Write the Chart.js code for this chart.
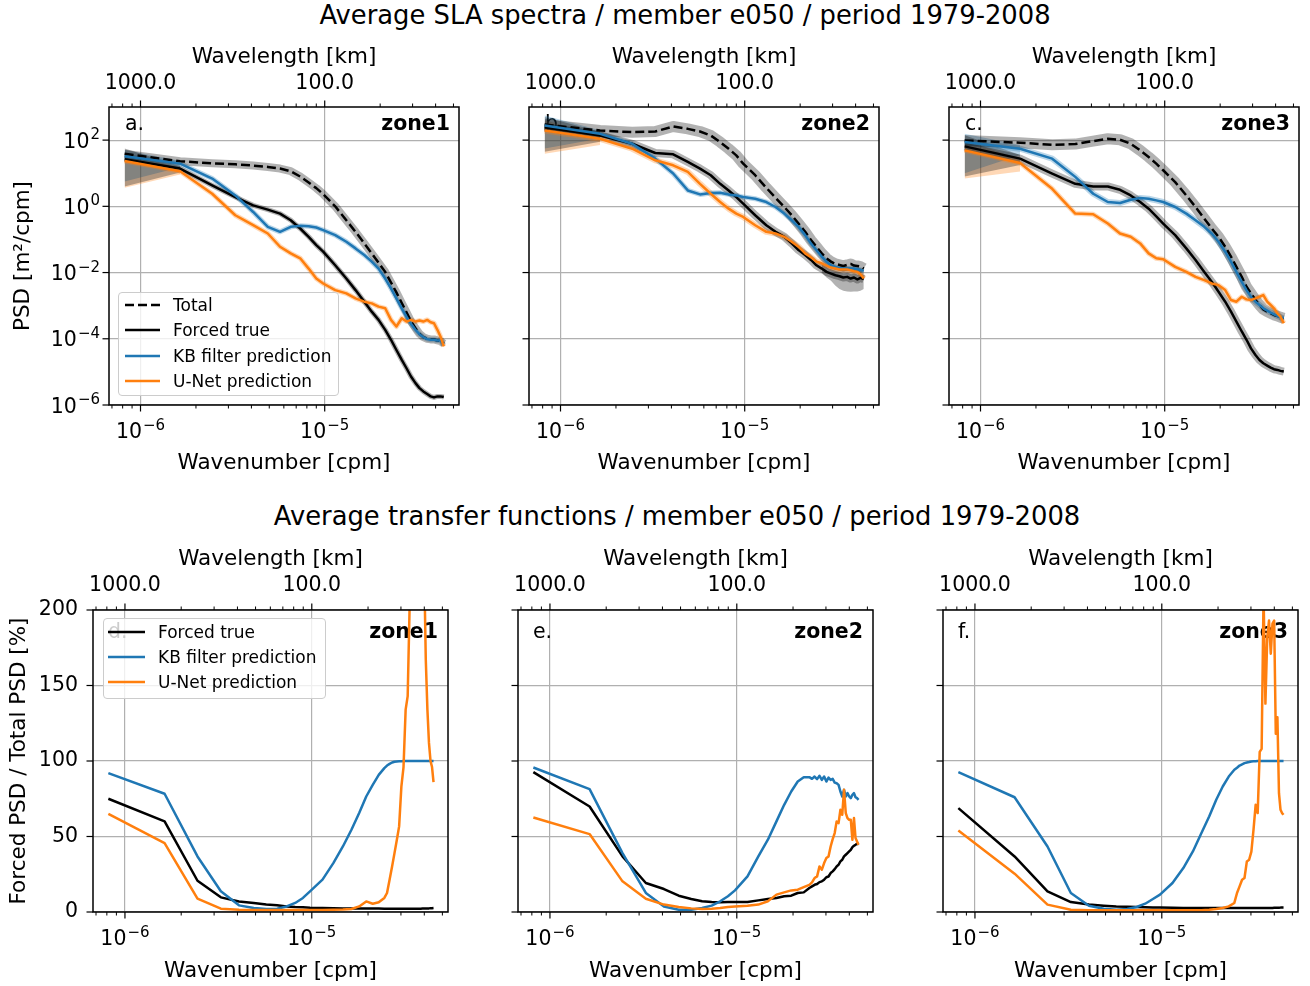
<!DOCTYPE html>
<html>
<head>
<meta charset="utf-8">
<script src="https://cdn.jsdelivr.net/npm/chart.js@4.4.1/dist/chart.umd.min.js"></script>
<style>
  body { margin: 0; width: 1310px; height: 986px; background: #fff; position: relative; overflow: hidden; font-family: "DejaVu Sans", sans-serif; }
  canvas { position: absolute; }
  .suptitle { position: absolute; font-size: 25.8px; line-height: 1; white-space: nowrap; transform: translate(-50%, -50%); color: #000; }
  .legend { position: absolute; box-sizing: border-box; background: rgba(255,255,255,0.8); border: 1px solid #cccccc; border-radius: 4px; font-size: 17px; }
  .lrow { position: absolute; display: flex; align-items: center; transform: translateY(-50%); white-space: nowrap; }
  .lrow svg { display: block; }
</style>
</head>
<body>
<div class="suptitle" style="left:685px; top:16px">Average SLA spectra / member e050 / period 1979-2008</div>
<div class="suptitle" style="left:677px; top:517px">Average transfer functions / member e050 / period 1979-2008</div>
<script>
const FONT = 'DejaVu Sans';

/* Wavenumber axes (cpm) */
const K_MIN = 6.745e-7;
const K_MAX = 5.358e-5;
const kMajor = [1e-6, 1e-5];
const kMajorExp = ['−6', '−5'];
const lambdaLabels = ['1000.0', '100.0'];
const kMinor = [7e-7, 8e-7, 9e-7, 2e-6, 3e-6, 4e-6, 5e-6, 6e-6, 7e-6, 8e-6, 9e-6, 2e-5, 3e-5, 4e-5, 5e-5];

const psdTicks = [1e-6, 1e-4, 1e-2, 1, 1e2];
const psdTickExp = ['−6', '−4', '−2', '0', '2'];
const tfTicks = [0, 50, 100, 150, 200];
const tfTickLabels = ['0', '50', '100', '150', '200'];

/* Spectra: wavenumbers in 1e-6 cpm, PSD given as log10(m2/cpm) */
const kSpec = [0.82, 1.64, 2.45, 3.27, 4.09, 4.91, 5.72, 6.54, 7.36, 8.18, 9.0, 9.81, 11.4, 13.1, 14.7, 16.4,
  18.0, 19.6, 21.3, 22.9, 24.5, 26.2, 27.8, 29.4, 31.1, 32.7, 34.3, 36.0, 37.6, 39.2, 40.9, 42.5, 44.3];

const zone1Total = [1.59, 1.36, 1.30, 1.27, 1.23, 1.19, 1.14, 1.06, 0.90, 0.72, 0.55, 0.37, 0.00, -0.42, -0.77, -1.12,
  -1.42, -1.70, -1.98, -2.30, -2.60, -2.92, -3.20, -3.47, -3.68, -3.85, -3.95, -4.00, -4.02, -4.02, -4.05, -4.07, -4.15];
const zone1Forced = [1.42, 1.14, 0.63, 0.28, 0.03, -0.10, -0.22, -0.42, -0.67, -0.92, -1.17, -1.37, -1.78, -2.18, -2.53, -2.88,
  -3.18, -3.43, -3.73, -4.03, -4.34, -4.64, -4.89, -5.14, -5.34, -5.49, -5.59, -5.67, -5.74, -5.77, -5.74, -5.74, -5.76];
const zone1Kb = [1.51, 1.29, 0.84, 0.33, -0.17, -0.62, -0.77, -0.62, -0.59, -0.60, -0.64, -0.72, -0.87, -1.07, -1.27, -1.47,
  -1.67, -1.88, -2.18, -2.48, -2.78, -3.08, -3.33, -3.55, -3.73, -3.86, -3.95, -4.01, -4.03, -4.03, -4.05, -4.05, -4.18];
const zone1Unet = [1.37, 1.06, 0.38, -0.27, -0.57, -0.82, -1.22, -1.42, -1.57, -1.88, -2.18, -2.33, -2.53, -2.63, -2.78, -2.88,
  -2.93, -3.03, -3.08, -3.43, -3.63, -3.38, -3.48, -3.43, -3.48, -3.45, -3.48, -3.43, -3.50, -3.53, -3.73, -3.93, -4.23];

const zone2Total = [2.47, 2.29, 2.24, 2.26, 2.41, 2.34, 2.26, 2.14, 1.94, 1.74, 1.54, 1.29, 0.94, 0.56, 0.26, -0.02,
  -0.27, -0.52, -0.77, -1.02, -1.22, -1.42, -1.57, -1.67, -1.74, -1.77, -1.80, -1.77, -1.74, -1.79, -1.80, -1.82, -1.88];
const zone2Forced = [2.39, 2.14, 1.89, 1.61, 1.57, 1.34, 1.14, 0.94, 0.68, 0.48, 0.28, 0.08, -0.27, -0.57, -0.77, -0.92,
  -1.12, -1.32, -1.47, -1.62, -1.78, -1.88, -1.98, -2.03, -2.08, -2.11, -2.15, -2.13, -2.18, -2.15, -2.21, -2.16, -2.20];
const zone2Kb = [2.44, 2.19, 1.89, 1.44, 0.99, 0.48, 0.36, 0.40, 0.41, 0.36, 0.33, 0.28, 0.23, 0.13, -0.02, -0.22,
  -0.42, -0.62, -0.87, -1.12, -1.32, -1.52, -1.67, -1.78, -1.83, -1.86, -1.88, -1.88, -1.88, -1.88, -1.90, -1.92, -1.95];
const zone2Unet = [2.29, 2.04, 1.74, 1.39, 1.24, 1.04, 0.68, 0.38, 0.13, -0.07, -0.22, -0.32, -0.57, -0.77, -0.82, -0.92,
  -1.07, -1.22, -1.42, -1.54, -1.67, -1.72, -1.79, -1.85, -1.88, -1.91, -1.91, -1.91, -1.93, -1.96, -1.98, -2.05, -2.18];

const zone3Total = [1.99, 1.92, 1.86, 1.88, 1.97, 2.04, 2.01, 1.89, 1.69, 1.49, 1.29, 1.09, 0.73, 0.33, -0.02, -0.37,
  -0.67, -0.92, -1.22, -1.52, -1.83, -2.13, -2.43, -2.63, -2.83, -2.98, -3.11, -3.18, -3.23, -3.28, -3.31, -3.35, -3.38];
const zone3Forced = [1.81, 1.44, 0.99, 0.68, 0.60, 0.60, 0.50, 0.33, 0.13, -0.07, -0.30, -0.52, -0.87, -1.27, -1.62, -1.98,
  -2.28, -2.58, -2.88, -3.18, -3.48, -3.78, -4.03, -4.29, -4.49, -4.64, -4.74, -4.81, -4.87, -4.92, -4.94, -4.97, -4.99];
const zone3Kb = [1.94, 1.74, 1.44, 0.89, 0.38, 0.13, 0.10, 0.20, 0.25, 0.23, 0.18, 0.13, -0.02, -0.22, -0.42, -0.62,
  -0.82, -1.07, -1.37, -1.67, -1.98, -2.28, -2.53, -2.73, -2.88, -2.98, -3.08, -3.15, -3.21, -3.26, -3.31, -3.35, -3.38];
const zone3Unet = [1.69, 1.31, 0.53, -0.22, -0.24, -0.52, -0.82, -0.92, -1.12, -1.42, -1.57, -1.60, -1.83, -1.98, -2.13, -2.23,
  -2.33, -2.38, -2.53, -2.83, -2.88, -2.73, -2.81, -2.83, -2.78, -2.73, -2.68, -2.88, -2.98, -3.08, -3.23, -3.33, -3.53];

/* ensemble spread at the two lowest wavenumbers (log10), rows: forced, KB, U-Net */
const wedgeK = [0.82, 1.64];
const zone1WedgeHi = [[1.75, 1.22], [1.70, 1.38], [1.62, 1.15]];
const zone1WedgeLo = [[0.60, 1.02], [0.75, 1.18], [0.56, 0.96]];
const zone2WedgeHi = [[2.70, 2.25], [2.74, 2.30], [2.60, 2.15]];
const zone2WedgeLo = [[1.65, 1.95], [1.75, 2.05], [1.59, 1.85]];
const zone3WedgeHi = [[2.15, 1.55], [2.19, 1.85], [2.00, 1.42]];
const zone3WedgeLo = [[0.90, 1.25], [1.00, 1.55], [0.84, 1.05]];

/* zone2 forced spread at high wavenumbers (log10) */
const zone2TailK = [26.2, 27.8, 29.4, 31.1, 32.7, 34.3, 36.0, 37.6, 39.2, 40.9, 42.5, 44.3];
const zone2TailHi = [-1.75, -1.80, -1.82, -1.85, -1.85, -1.85, -1.85, -1.85, -1.85, -1.85, -1.87, -1.90];
const zone2TailLo = [-2.00, -2.15, -2.25, -2.40, -2.50, -2.55, -2.57, -2.58, -2.57, -2.57, -2.55, -2.50];

/* Transfer functions: wavenumbers in 1e-6 cpm, values in % */
const kTf = [0.815, 1.63, 2.445, 3.26, 4.075, 4.89, 5.705, 6.52, 7.335, 8.15, 8.965, 9.78, 11.41, 13.04, 14.67, 16.3,
  17.93, 19.56, 21.19, 22.82, 24.45, 25.27, 26.08, 26.9, 27.71, 28.53, 29.34, 30.16, 30.97, 31.79, 32.6, 33.42,
  34.23, 35.05, 35.86, 36.68, 37.49, 38.31, 39.12, 39.94, 40.75, 41.57, 42.38, 43.2, 44.01, 44.83];

const tfZone1Forced = [75, 60, 20.7, 9.7, 7, 6, 5, 4.4, 3.7, 3.3, 3.1, 2.8, 2.6, 2.5, 2.4, 2.4, 2.3, 2.3, 2.3, 2.3,
  2.2, 2.2, 2.2, 2.2, 2.2, 2.2, 2.2, 2.2, 2.2, 2.2, 2.2, 2.2, 2.2, 2.2, 2.2, 2.2, 2.2, 2.2,
  2.3, 2.3, 2.3, 2.4, 2.4, 2.5, 2.5, 2.6];
const tfZone1Kb = [92, 78.3, 36.8, 13.7, 4.4, 2.6, 2.0, 2.2, 3.7, 6, 9.3, 13.7, 21.4, 32.4, 43.4, 54.5, 65.5, 76.5, 84.2, 90.8,
  95.3, 97, 98.1, 99, 99.5, 99.7, 99.8, 99.9, 100, 100, 100, 100, 100, 100, 100, 100, 100, 100,
  100, 100, 100, 100, 100, 100, 100, 100];
const tfZone1Unet = [65, 45.6, 8.8, 2.2, 1.5, 1.4, 1.3, 1.3, 1.3, 1.3, 1.3, 1.3, 1.4, 1.5, 1.6, 2.0, 3.7, 7, 5.5, 6.4,
  9.3, 12.6, 21.4, 30.2, 39, 47.8, 56.7, 83, 96, 134, 143, 205, 260, 330, 300, 280, 260, 240, 250, 230,
  167, 134, 112, 100, 96, 86];

const tfZone2Forced = [92.6, 69.9, 36.8, 19.2, 15.2, 10.8, 8.6, 7.1, 6.6, 6.4, 6.6, 6.6, 6.6, 7.7, 8.6, 9.3, 10.4, 10.8, 12.6, 13,
  15.9, 17, 18, 18.5, 19.8, 20.3, 21.4, 23, 23.5, 25.8, 26.9, 28.4, 30.2, 31.3, 33.5, 34.6, 36.8, 37.9, 39, 40.1,
  41.2, 43, 43.9, 44.5, 45.2, 45];
const tfZone2Kb = [95.7, 81.4, 39, 12.6, 3.7, 1.5, 1.5, 2.6, 4.2, 7.1, 10.4, 14.3, 23.6, 36.8, 47.9, 60, 71, 79.8, 86.4, 89.3,
  89.3, 88.2, 89.7, 88, 90.2, 87.5, 89.7, 86.4, 89, 87.5, 88.2, 85.7, 85.3, 84.2, 79.8, 76.5, 80.9, 76.5, 78.7, 76.5,
  75.4, 77.6, 78.7, 76, 75.4, 74.3];
const tfZone2Unet = [62.6, 51.6, 20.3, 8.8, 4.9, 3.3, 2.4, 2, 2.2, 2.6, 3.3, 3.7, 4.2, 4.9, 7.1, 11.5, 13, 14.3, 14.8, 16.5,
  18, 19.6, 22.5, 23.6, 30.2, 28, 32.4, 35.7, 36.8, 43.4, 48.3, 52.3, 60, 58.9, 67.7, 64.4, 80.9, 65.5, 62.2, 61.1,
  61.1, 47.8, 62.2, 49, 46.7, 44.5];

const tfZone3Forced = [68.8, 36.8, 13.7, 6.6, 4.9, 4.2, 3.7, 3.5, 3.3, 3.1, 3.0, 2.9, 2.8, 2.7, 2.7,
  2.6, 2.6, 2.6, 2.6, 2.6, 2.6, 2.6, 2.6, 2.6, 2.6, 2.6, 2.6, 2.6, 2.6, 2.6, 2.6, 2.6, 2.6, 2.6,
  2.7, 2.7, 2.7, 2.7, 2.7, 2.8, 2.8, 2.8, 2.8, 2.9, 2.9, 2.9];
const tfZone3Kb = [92.6, 76, 43.4, 12.6, 4.2, 2.2, 1.5, 2, 3.3, 5.5, 8.6, 11.5, 19.2, 29.1, 40.1, 52.3, 63.3, 74.3, 83.1, 89.7,
  94.2, 95.5, 97, 97.8, 98.6, 99, 99.3, 99.7, 99.8, 99.9, 100, 100, 100, 100, 100, 100, 100, 100, 100, 100,
  100, 100, 100, 100, 100, 100];
const tfZone3Unet = [54, 25.4, 4.9, 1.5, 1.1, 1.1, 1.1, 1.1, 1.1, 1.1, 1.1, 1.1, 1.1, 1.1, 1.1, 1.1,
  1.5, 2, 2.6, 3.7, 6, 12.6, 17, 21.4, 22.5, 33.5, 34.6, 40, 54.5, 71, 65.5, 106, 108, 210, 138, 182,
  193, 171, 191, 193, 118, 129, 78.7, 67.7, 65.5, 64.4];

/* styles */
const BLACK = '#000000', BLUE = '#1f77b4', ORANGE = '#ff7f0e';
const GREY_BAND = 'rgba(0,0,0,0.3)', BLUE_BAND = 'rgba(31,119,180,0.3)', ORANGE_BAND = 'rgba(255,127,14,0.3)';
const GRID = '#b0b0b0';
const tickFont = { family: FONT, size: 20.5 };
const labelFont = { family: FONT, size: 21.5 };

const TOP_ROW = { top: 107, bottom: 405, padT: 77, padB: 80, topTickPad: 11.5, topTitlePad: 15, botTitlePad: 9, yPad: 9, yTitlePad: 10.5 };
const BOT_ROW = { top: 610, bottom: 912, padT: 77, padB: 74, topTickPad: 12.5, topTitlePad: 14, botTitlePad: 2, yPad: 15, yTitlePad: 7 };

function pts(k, vals, isLog) {
  return k.map((v, i) => ({ x: v * 1e-6, y: isLog ? Math.pow(10, vals[i]) : vals[i] }));
}

function line(k, vals, isLog, color, width, order, dash) {
  return {
    data: pts(k, vals, isLog), borderColor: color, borderWidth: width, borderDash: dash || [],
    pointRadius: 0, fill: false, order: order, clip: 0, tension: 0, borderJoinStyle: 'round'
  };
}

function band(sets, k, hi, lo, color) {
  sets.push(line(k, hi, true, 'rgba(0,0,0,0)', 0, 20));
  const low = line(k, lo, true, 'rgba(0,0,0,0)', 0, 20);
  low.fill = sets.length - 1;
  low.backgroundColor = color;
  sets.push(low);
}

function spectraSets(z) {
  const sets = [];
  const bandCols = [GREY_BAND, BLUE_BAND, ORANGE_BAND];
  for (let s = 0; s < 3; s++) band(sets, wedgeK, z.wedgeHi[s], z.wedgeLo[s], bandCols[s]);
  if (z.tailHi) band(sets, zone2TailK, z.tailHi, z.tailLo, GREY_BAND);
  const series = [z.total, z.forced, z.kb, z.unet];
  const cols = [BLACK, BLACK, BLUE, ORANGE];
  const halos = [GREY_BAND, GREY_BAND, BLUE_BAND, ORANGE_BAND];
  series.forEach((v, s) => sets.push(line(kSpec, v, true, halos[s], z.halo[s], 10)));
  series.forEach((v, s) => sets.push(line(kSpec, v, true, cols[s], 2.5, 4 - s, s === 0 ? [9, 4] : null)));
  return sets;
}

function transferSets(z) {
  return [
    line(kTf, z.forced, false, BLACK, 2.5, 3),
    line(kTf, z.kb, false, BLUE, 2.5, 2),
    line(kTf, z.unet, false, ORANGE, 2.5, 1)
  ];
}

// "10" with a raised exponent, like the mathtext labels of the original
function drawPow(ctx, exp, x, y, align) {
  ctx.font = '20.5px "' + FONT + '"';
  const w1 = ctx.measureText('10').width;
  ctx.font = '15px "' + FONT + '"';
  const w2 = ctx.measureText(exp).width;
  const w = w1 + 1 + w2;
  const x0 = align === 'right' ? x - w : x - w / 2;
  ctx.textAlign = 'left';
  ctx.textBaseline = 'alphabetic';
  ctx.font = '20.5px "' + FONT + '"';
  ctx.fillText('10', x0, y);
  ctx.font = '15px "' + FONT + '"';
  ctx.fillText(exp, x0 + w1 + 1, y - 8.5);
}

const framePlugin = {
  id: 'frame',
  afterDatasetsDraw(chart, args, opts) {
    const { ctx, chartArea: a } = chart;
    const xs = chart.scales.x, ys = chart.scales.y;
    ctx.save();
    ctx.strokeStyle = '#000';
    const seg = (x1, y1, x2, y2, w) => {
      ctx.lineWidth = w; ctx.beginPath(); ctx.moveTo(x1, y1); ctx.lineTo(x2, y2); ctx.stroke();
    };
    kMajor.forEach(v => {
      const x = xs.getPixelForValue(v);
      seg(x, a.bottom, x, a.bottom + 6.5, 1.2);
      seg(x, a.top, x, a.top - 6.5, 1.2);
    });
    kMinor.forEach(v => {
      const x = xs.getPixelForValue(v);
      seg(x, a.bottom, x, a.bottom + 3.5, 1);
      seg(x, a.top, x, a.top - 3.5, 1);
    });
    opts.yTicks.forEach(v => {
      const y = ys.getPixelForValue(v);
      seg(a.left, y, a.left - 6.5, y, 1.2);
    });
    ctx.lineWidth = 1.5;
    ctx.strokeRect(a.left, a.top, a.right - a.left, a.bottom - a.top);

    ctx.fillStyle = '#000';
    kMajor.forEach((v, i) => drawPow(ctx, kMajorExp[i], xs.getPixelForValue(v), a.bottom + 33, 'center'));
    if (opts.logLabels) {
      psdTicks.forEach((v, i) => drawPow(ctx, psdTickExp[i], a.left - 9, ys.getPixelForValue(v) + 7.5, 'right'));
    }
    ctx.restore();
  }
};

const tagPlugin = {
  id: 'tags',
  beforeDatasetsDraw(chart, args, opts) {
    const { ctx, chartArea: a } = chart;
    ctx.save();
    ctx.fillStyle = '#000';
    ctx.textBaseline = 'middle';
    ctx.font = '20.5px "' + FONT + '"';
    ctx.textAlign = 'left';
    ctx.fillText(opts.letter, a.left + opts.dx, a.top + opts.dy);
    ctx.font = 'bold 20.5px "' + FONT + '"';
    ctx.textAlign = 'right';
    ctx.fillText(opts.zone, a.right - opts.dxr, a.top + opts.dy);
    ctx.restore();
  }
};

function makeChart(p) {
  const row = p.row;
  const padR = 8;
  const W = p.R - p.L + p.padL + padR;
  const H = row.bottom - row.top + row.padT + row.padB;
  const c = document.createElement('canvas');
  c.width = W; c.height = H;
  c.style.left = (p.L - p.padL) + 'px';
  c.style.top = (row.top - row.padT) + 'px';
  c.style.width = W + 'px'; c.style.height = H + 'px';
  document.body.appendChild(c);

  const spec = p.kind === 'spec';
  const yTicks = spec ? psdTicks : tfTicks;

  new Chart(c, {
    type: 'line',
    data: { datasets: p.datasets },
    options: {
      responsive: false,
      animation: false,
      events: [],
      layout: { padding: { left: 0, right: padR, top: 0, bottom: 0 } },
      plugins: {
        legend: { display: false },
        tooltip: { enabled: false },
        frame: { yTicks: yTicks, logLabels: spec && p.first },
        tags: { letter: p.letter, zone: p.zone, dx: spec ? 16 : 15, dxr: spec ? 9 : 10, dy: spec ? 18 : 23 }
      },
      scales: {
        x: {
          type: 'logarithmic', position: 'bottom', min: K_MIN, max: K_MAX,
          afterBuildTicks: s => { s.ticks = kMajor.map(v => ({ value: v })); },
          afterFit: s => { s.height = row.padB; },
          ticks: { display: false },
          grid: { color: GRID, lineWidth: 1.2, drawTicks: false },
          border: { display: false },
          title: { display: true, text: 'Wavenumber [cpm]', color: '#000', font: labelFont, padding: { top: 0, bottom: row.botTitlePad } }
        },
        x2: {
          type: 'logarithmic', position: 'top', axis: 'x', min: K_MIN, max: K_MAX,
          afterBuildTicks: s => { s.ticks = kMajor.map(v => ({ value: v })); },
          afterFit: s => { s.height = row.padT; },
          ticks: { autoSkip: false, maxRotation: 0, minRotation: 0, padding: row.topTickPad, color: '#000', font: tickFont,
            callback: (v, i) => lambdaLabels[i] },
          grid: { display: false, drawTicks: false },
          border: { display: false },
          title: { display: true, text: 'Wavelength [km]', color: '#000', font: labelFont, padding: { top: row.topTitlePad, bottom: 0 } }
        },
        y: {
          type: spec ? 'logarithmic' : 'linear',
          min: spec ? 1e-6 : 0, max: spec ? 1e3 : 200,
          afterBuildTicks: s => { s.ticks = yTicks.map(v => ({ value: v })); },
          afterFit: s => { s.width = p.padL; },
          ticks: { display: p.first && !spec, autoSkip: false, padding: row.yPad, color: '#000', font: tickFont,
            callback: (v, i) => tfTickLabels[i] },
          grid: { color: GRID, lineWidth: 1.2, drawTicks: false },
          border: { display: false },
          title: { display: p.first, text: spec ? 'PSD [m²/cpm]' : 'Forced PSD / Total PSD [%]', color: '#000', font: labelFont,
            padding: { top: row.yTitlePad, bottom: 0 } }
        }
      }
    },
    plugins: [framePlugin, tagPlugin]
  });
}

const panels = [
  { kind: 'spec', row: TOP_ROW, L: 109, R: 459, padL: 109, first: true, letter: 'a.', zone: 'zone1',
    datasets: spectraSets({ total: zone1Total, forced: zone1Forced, kb: zone1Kb, unet: zone1Unet,
      wedgeHi: zone1WedgeHi, wedgeLo: zone1WedgeLo, halo: [8, 5, 5, 5] }) },
  { kind: 'spec', row: TOP_ROW, L: 529, R: 879, padL: 40, first: false, letter: 'b.', zone: 'zone2',
    datasets: spectraSets({ total: zone2Total, forced: zone2Forced, kb: zone2Kb, unet: zone2Unet,
      wedgeHi: zone2WedgeHi, wedgeLo: zone2WedgeLo, tailHi: zone2TailHi, tailLo: zone2TailLo, halo: [11, 8, 5, 6] }) },
  { kind: 'spec', row: TOP_ROW, L: 949, R: 1299, padL: 40, first: false, letter: 'c.', zone: 'zone3',
    datasets: spectraSets({ total: zone3Total, forced: zone3Forced, kb: zone3Kb, unet: zone3Unet,
      wedgeHi: zone3WedgeHi, wedgeLo: zone3WedgeLo, halo: [11, 8, 6, 5] }) },
  { kind: 'tf', row: BOT_ROW, L: 93, R: 448, padL: 93, first: true, letter: 'd.', zone: 'zone1',
    datasets: transferSets({ forced: tfZone1Forced, kb: tfZone1Kb, unet: tfZone1Unet }) },
  { kind: 'tf', row: BOT_ROW, L: 518, R: 873, padL: 40, first: false, letter: 'e.', zone: 'zone2',
    datasets: transferSets({ forced: tfZone2Forced, kb: tfZone2Kb, unet: tfZone2Unet }) },
  { kind: 'tf', row: BOT_ROW, L: 943, R: 1298, padL: 40, first: false, letter: 'f.', zone: 'zone3',
    datasets: transferSets({ forced: tfZone3Forced, kb: tfZone3Kb, unet: tfZone3Unet }) }
];

panels.forEach(makeChart);

/* legends */
function legend(box, lineX, lineLen, textX, rows) {
  const el = document.createElement('div');
  el.className = 'legend';
  Object.assign(el.style, { left: box[0] + 'px', top: box[1] + 'px', width: box[2] + 'px', height: box[3] + 'px' });
  rows.forEach(r => {
    const row = document.createElement('div');
    row.className = 'lrow';
    row.style.left = (lineX - box[0] - 1) + 'px';
    row.style.top = (r.y - box[1] - 1) + 'px';
    const dash = r.dash ? ' stroke-dasharray="9 4"' : '';
    row.innerHTML = '<svg width="' + lineLen + '" height="6"><line x1="0" y1="3" x2="' + lineLen + '" y2="3" stroke="' + r.color +
      '" stroke-width="2.5"' + dash + '/></svg><span style="margin-left:' + (textX - lineX - lineLen) + 'px">' + r.label + '</span>';
    el.appendChild(row);
  });
  document.body.appendChild(el);
}

legend([118, 292, 221, 104], 125, 35, 173, [
  { y: 305, color: BLACK, dash: true, label: 'Total' },
  { y: 330, color: BLACK, label: 'Forced true' },
  { y: 355.5, color: BLUE, label: 'KB filter prediction' },
  { y: 381, color: ORANGE, label: 'U-Net prediction' }
]);

legend([103, 618, 223, 81], 108, 37, 158, [
  { y: 632, color: BLACK, label: 'Forced true' },
  { y: 657, color: BLUE, label: 'KB filter prediction' },
  { y: 682, color: ORANGE, label: 'U-Net prediction' }
]);
</script>
</body>
</html>
